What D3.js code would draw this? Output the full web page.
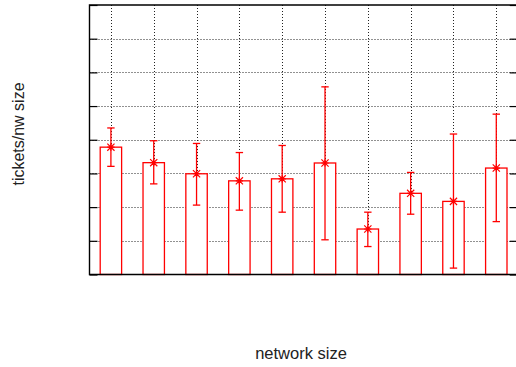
<!DOCTYPE html>
<html>
<head>
<meta charset="utf-8">
<script src="https://cdn.jsdelivr.net/npm/d3@7"></script>
<style>
  html, body { margin: 0; padding: 0; background: #fff; }
  svg { display: block; }
  text { font-family: "Liberation Sans", Arial, sans-serif; }
</style>
</head>
<body>
<svg id="chart" width="516" height="367"></svg>
<script>
// ---- data (axis labels are not printed in the original) ----
const categories = ["1", "2", "3", "4", "5", "6", "7", "8", "9", "10"];
const means      = [3.78, 3.32, 2.99, 2.78, 2.84, 3.31, 1.35, 2.41, 2.17, 3.16];
const upper      = [4.35, 3.97, 3.89, 3.62, 3.83, 5.57, 1.85, 3.03, 4.17, 4.76];
const lower      = [3.21, 2.69, 2.06, 1.91, 1.85, 1.03, 0.83, 1.79, 0.19, 1.57];
const yTicks     = [0, 1, 2, 3, 4, 5, 6, 7, 8];
const xLabel = "network size";
const yLabel = "tickets/nw size";

const rows = categories.map((c, i) => ({ c, m: means[i], hi: upper[i], lo: lower[i] }));

const svg = d3.select("#chart");
const pLeft = 89.5, pRight = 517.7, pTop = 5, pBottom = 274.5;

const x = d3.scaleBand().domain(categories).range([pLeft, pRight])
  .paddingInner(0.5).paddingOuter(0.25);
const y = d3.scaleLinear().domain([0, 8]).range([pBottom, pTop]);
const cx = d => x(d) + x.bandwidth() / 2;

// grid
const grid = svg.append("g").attr("stroke", "#222").attr("stroke-width", 1)
  .attr("stroke-dasharray", "1,2").attr("fill", "none");
grid.selectAll("line.h").data(yTicks.filter(t => t > 0 && t < 8)).join("line")
  .attr("class", "h")
  .attr("x1", pLeft).attr("x2", pRight)
  .attr("y1", d => Math.round(y(d)) + 0.5).attr("y2", d => Math.round(y(d)) + 0.5);
grid.selectAll("line.v").data(categories).join("line")
  .attr("class", "v")
  .attr("x1", d => Math.round(cx(d)) + 0.5).attr("x2", d => Math.round(cx(d)) + 0.5)
  .attr("y1", pTop).attr("y2", pBottom);

// y axis ticks (no labels) left and right, inward
const yAxisL = d3.axisRight(y).tickValues(yTicks).tickSize(8).tickFormat("");
svg.append("g").attr("transform", `translate(${pLeft},0)`).call(yAxisL)
  .call(g => g.select(".domain").remove())
  .call(g => g.selectAll("line").attr("stroke", "#000").attr("stroke-width", 1.2));
const yAxisR = d3.axisLeft(y).tickValues(yTicks).tickSize(8).tickFormat("");
svg.append("g").attr("transform", `translate(${pRight},0)`).call(yAxisR)
  .call(g => g.select(".domain").remove())
  .call(g => g.selectAll("line").attr("stroke", "#000").attr("stroke-width", 1.2));

// bars
svg.append("g").selectAll("rect").data(rows).join("rect")
  .attr("x", d => x(d.c)).attr("width", x.bandwidth())
  .attr("y", d => y(d.m)).attr("height", d => pBottom - y(d.m))
  .attr("fill", "#fff").attr("stroke", "#ff0000").attr("stroke-width", 1.3);

// error bars
const eb = svg.append("g").attr("stroke", "#ff0000").attr("stroke-width", 1.3).attr("fill", "none");
const cap = 3.7;
eb.selectAll("line.v").data(rows).join("line").attr("class", "v")
  .attr("x1", d => cx(d.c)).attr("x2", d => cx(d.c))
  .attr("y1", d => y(d.hi)).attr("y2", d => y(d.lo));
eb.selectAll("line.t").data(rows).join("line").attr("class", "t")
  .attr("x1", d => cx(d.c) - cap).attr("x2", d => cx(d.c) + cap)
  .attr("y1", d => y(d.hi)).attr("y2", d => y(d.hi));
eb.selectAll("line.b").data(rows).join("line").attr("class", "b")
  .attr("x1", d => cx(d.c) - cap).attr("x2", d => cx(d.c) + cap)
  .attr("y1", d => y(d.lo)).attr("y2", d => y(d.lo));

// asterisk markers
const ms = 3.6;
const mk = svg.append("g").attr("stroke", "#ff0000").attr("stroke-width", 1.2).attr("fill", "none");
mk.selectAll("path").data(rows).join("path")
  .attr("d", d => {
    const px = cx(d.c), py = y(d.m);
    return `M${px - ms},${py}H${px + ms}M${px},${py - ms}V${py + ms}` +
           `M${px - ms},${py - ms}L${px + ms},${py + ms}M${px - ms},${py + ms}L${px + ms},${py - ms}`;
  });

// frame
svg.append("path")
  .attr("d", `M${pRight},${pTop}H${pLeft}V${pBottom}H${pRight}`)
  .attr("fill", "none").attr("stroke", "#000").attr("stroke-width", 1.4);

// labels
svg.append("text").attr("x", 301).attr("y", 359)
  .attr("text-anchor", "middle").attr("font-size", 16.5).attr("fill", "#222").text(xLabel);
svg.append("text").attr("transform", `translate(24,134) rotate(-90)`)
  .attr("text-anchor", "middle").attr("font-size", 16).attr("fill", "#222").text(yLabel);
</script>
</body>
</html>
